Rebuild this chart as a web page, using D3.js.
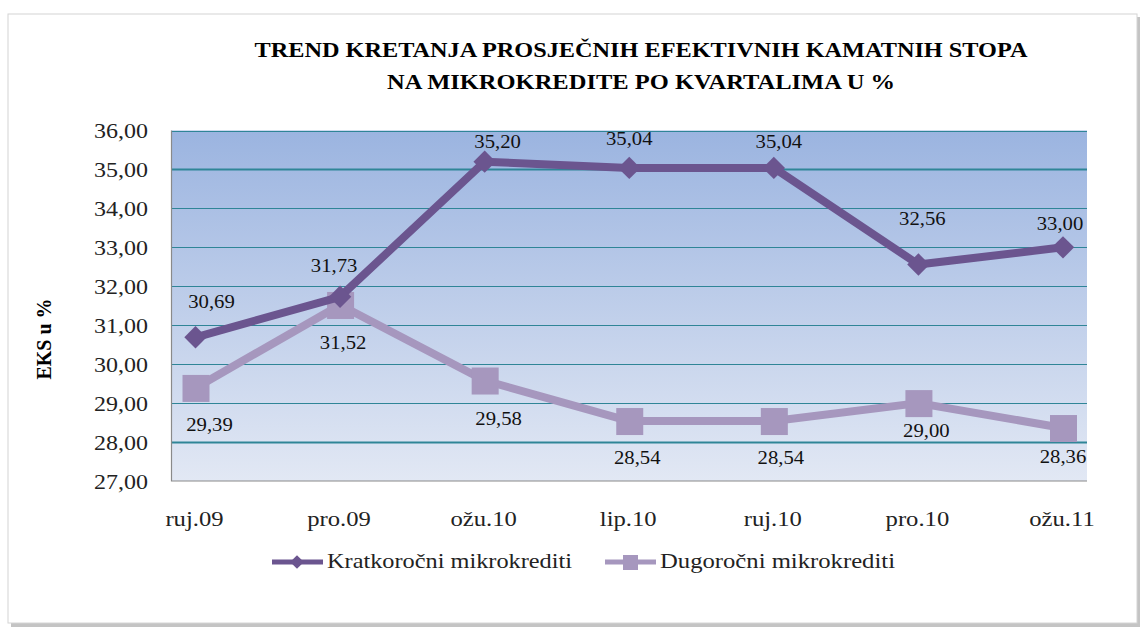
<!DOCTYPE html>
<html><head><meta charset="utf-8">
<script src="https://cdn.jsdelivr.net/npm/d3@7"></script>
</head><body style="margin:0;background:#fff">
<script>
const categories = ["ruj.09","pro.09","ožu.10","lip.10","ruj.10","pro.10","ožu.11"];
const shortTerm = [30.69,31.73,35.20,35.04,35.04,32.56,33.00];
const longTerm  = [29.39,31.52,29.58,28.54,28.54,29.00,28.36];
const seriesNames = ["Kratkoročni mikrokrediti","Dugoročni mikrokrediti"];
const yTicks = [27,28,29,30,31,32,33,34,35,36];
const titleLines = ["TREND KRETANJA PROSJEČNIH EFEKTIVNIH KAMATNIH STOPA","NA MIKROKREDITE PO KVARTALIMA U %"];
const yTitle = "EKS u %";
// label offsets (style only)
const shortDx = [16,-6,13,0,5,4,-3];
const shortDy = [-35,-31,-20,-29,-26,-45,-23];
const longDx  = [14,3,14,8,7,8,0];
const longDy  = [37,38,38,37,37,28,29];

const W=1143,H=632;
const svg=d3.select("body").append("svg").attr("width",W).attr("height",H)
  .attr("font-family","Liberation Serif").style("font-family","'Liberation Serif', 'Times New Roman', serif");
const F="'Liberation Serif', 'Times New Roman', serif";
const defs=svg.append("defs");
const g1=defs.append("linearGradient").attr("id","bg").attr("x1",0).attr("y1",0).attr("x2",0).attr("y2",1);
g1.append("stop").attr("offset","0%").attr("stop-color","#9bb4e0");
g1.append("stop").attr("offset","100%").attr("stop-color","#e2e8f4");

svg.append("rect").attr("x",11).attr("y",17).attr("width",1129).attr("height",610).attr("fill","#c4c4c4");
svg.append("rect").attr("x",8).attr("y",14).attr("width",1129).attr("height",609).attr("fill","#fff").attr("stroke","#d4d4d4");

const fmt = v => v.toFixed(2).replace(".",",");
const pL=171.5, pR=1087, pT=130.5, pB=481;
const y=d3.scaleLinear().domain([27,36]).range([pB,pT]);
const x=d3.scalePoint().domain(categories).range([195.5,1063]);

function stretch(sel,k){ sel.each(function(){ const n=this.getComputedTextLength(); this.setAttribute("textLength",n*k); this.setAttribute("lengthAdjust","spacingAndGlyphs"); }); }

svg.append("rect").attr("x",pL).attr("y",pT).attr("width",pR-pL).attr("height",pB-pT).attr("fill","url(#bg)");
svg.append("g").selectAll("line").data(yTicks.slice(1)).join("line")
 .attr("x1",pL).attr("x2",pR).attr("y1",d=>Math.round(y(d))+0.5).attr("y2",d=>Math.round(y(d))+0.5)
 .attr("stroke","#2f8597").attr("stroke-width",d=>(d===28||d===35)?2:1.2);
svg.append("path").attr("d",`M${pL},${pT}V${pB}H${pR}`).attr("fill","none").attr("stroke","#8a8a8a").attr("stroke-width",1.2);

svg.append("g").selectAll("text").data(titleLines).join("text").style("font-family",F)
 .attr("x",641).attr("y",(d,i)=>57+i*32).attr("text-anchor","middle")
 .attr("font-weight","bold").attr("font-size",22).text(d=>d)
 .attr("textLength",(d,i)=>i===0?773:508).attr("lengthAdjust","spacingAndGlyphs");

const yt=svg.append("g").selectAll("text").data(yTicks).join("text").style("font-family",F)
 .attr("x",148).attr("y",d=>y(d)+7.5).attr("text-anchor","end")
 .attr("font-size",22).attr("fill","#222").text(d=>fmt(d));
stretch(yt,1.09);
svg.append("text").style("font-family",F).attr("transform","translate(51,339) rotate(-90)").attr("text-anchor","middle")
 .attr("font-weight","bold").attr("font-size",20).text(yTitle);

const xt=svg.append("g").selectAll("text").data(categories).join("text").style("font-family",F)
 .attr("x",d=>x(d)-1).attr("y",526).attr("text-anchor","middle")
 .attr("font-size",22).attr("fill","#222").text(d=>d);
stretch(xt,1.12);

const c1="#6b558f", c2="#a697be";
const line=d3.line().x((d,i)=>x(categories[i])).y(d=>y(d));
svg.append("path").datum(longTerm).attr("d",line).attr("fill","none").attr("stroke",c2).attr("stroke-width",8).attr("stroke-linejoin","round");
svg.append("g").selectAll("rect").data(longTerm).join("rect")
 .attr("x",(d,i)=>x(categories[i])-13).attr("y",d=>y(d)-13).attr("width",27).attr("height",27).attr("fill",c2);
svg.append("path").datum(shortTerm).attr("d",line).attr("fill","none").attr("stroke",c1).attr("stroke-width",8).attr("stroke-linejoin","round");
svg.append("g").selectAll("path").data(shortTerm).join("path")
 .attr("d",d3.symbol(d3.symbolDiamond2,320)).attr("transform",(d,i)=>`translate(${x(categories[i])},${y(d)})`).attr("fill",c1);

const dl1=svg.append("g").selectAll("text").data(shortTerm).join("text").style("font-family",F)
 .attr("x",(d,i)=>x(categories[i])+shortDx[i]).attr("y",(d,i)=>y(d)+shortDy[i]+6).attr("text-anchor","middle")
 .attr("font-size",18).attr("fill","#111").text(d=>fmt(d));
const dl2=svg.append("g").selectAll("text").data(longTerm).join("text").style("font-family",F)
 .attr("x",(d,i)=>x(categories[i])+longDx[i]).attr("y",(d,i)=>y(d)+longDy[i]+6).attr("text-anchor","middle")
 .attr("font-size",18).attr("fill","#111").text(d=>fmt(d));
stretch(dl1,1.15); stretch(dl2,1.15);

const lg=svg.append("g");
[[c1,272,seriesNames[0],"diamond",245],[c2,605,seriesNames[1],"square",235]].forEach(([c,lx,t,s,w])=>{
  lg.append("line").attr("x1",lx).attr("x2",lx+51).attr("y1",562).attr("y2",562).attr("stroke",c).attr("stroke-width",5);
  if(s==="diamond") lg.append("path").attr("d",d3.symbol(d3.symbolDiamond2,120)).attr("transform",`translate(${lx+25},562)`).attr("fill",c);
  else lg.append("rect").attr("x",lx+18).attr("y",555).attr("width",15).attr("height",15).attr("fill",c);
  lg.append("text").style("font-family",F).attr("x",lx+55).attr("y",568).attr("font-size",22).attr("fill","#222").text(t)
    .attr("textLength",w).attr("lengthAdjust","spacingAndGlyphs");
});
</script>
</body></html>
